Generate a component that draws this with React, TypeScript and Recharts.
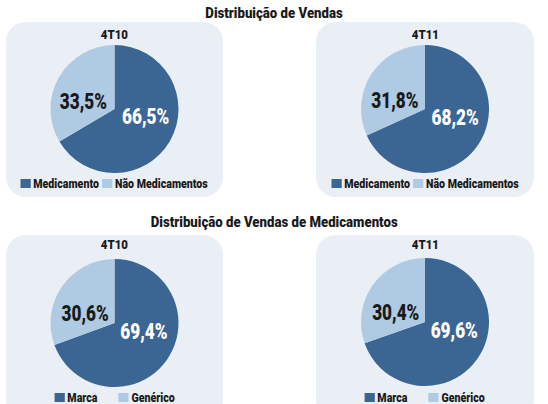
import React from 'react';
import { PieChart, Pie, Cell, Legend } from 'recharts';

const titles = ['Distribuição de Vendas', 'Distribuição de Vendas de Medicamentos'];
const periods = ['4T10', '4T11'];
const vendasCategories = ['Medicamento', 'Não Medicamentos'];
const vendas4T10 = [66.5, 33.5];
const vendas4T11 = [68.2, 31.8];
const medCategories = ['Marca', 'Genérico'];
const med4T10 = [69.4, 30.6];
const med4T11 = [69.6, 30.4];

const DARK = '#3b6593';
const LIGHT = '#afcbe3';
const PANEL = '#eaeff6';
const TEXT = '#1a1a1a';
const FONT = 'Roboto, "Liberation Sans", sans-serif';
const COLORS = [DARK, LIGHT];
const RAD = Math.PI / 180;

const fmt = (v: number) => v.toFixed(1).replace('.', ',') + '%';

const Narrow = ({ s, children }: { s: number; children: React.ReactNode }) => (
  <span style={{ display: 'inline-block', transform: `scaleX(${s})`, transformOrigin: 'center', whiteSpace: 'nowrap' }}>{children}</span>
);

const renderLabel = (p: any) => {
  const { cx, cy, midAngle, outerRadius, value, index } = p;
  const x = cx + outerRadius * 0.56 * Math.cos(midAngle * RAD);
  const y = cy - outerRadius * 0.24 * Math.sin(midAngle * RAD);
  return (
    <text
      x={0}
      y={0}
      transform={`translate(${x} ${y}) scale(0.78 1)`}
      textAnchor="middle"
      dominantBaseline="central"
      fill={index === 0 ? '#ffffff' : TEXT}
      style={{ fontFamily: FONT, fontWeight: 900, fontSize: 22 }}
    >
      {fmt(value)}
    </text>
  );
};

const makeLegend = (cats: string[], gap: number) => () => (
  <div style={{ display: 'flex', justifyContent: 'center' }}>
    <div style={{ display: 'flex', alignItems: 'center', gap, transform: 'scaleX(0.85)', transformOrigin: 'center', fontFamily: FONT, fontWeight: 900, fontSize: 12.5, color: TEXT, whiteSpace: 'nowrap' }}>
      {cats.map((c, i) => (
        <div key={c} style={{ display: 'flex', alignItems: 'center', flexShrink: 0 }}>
          <span style={{ display: 'inline-block', flexShrink: 0, width: 12, height: 9, background: COLORS[i], marginRight: 3 }} />
          <span>{c}</span>
        </div>
      ))}
    </div>
  </div>
);

type PanelProps = {
  left: number;
  top: number;
  width: number;
  height: number;
  period: string;
  cats: string[];
  values: number[];
  cy: number;
  titleTop: number;
  legendTop: number;
  legendGap: number;
};

const Panel = ({ left, top, width, height, period, cats, values, cy, titleTop, legendTop, legendGap }: PanelProps) => {
  const data = cats.map((c, i) => ({ name: c, value: values[i] }));
  return (
    <div style={{ position: 'absolute', left, top, width, height, background: PANEL, borderRadius: 20, overflow: 'hidden' }}>
      <PieChart width={width} height={height} margin={{ top: 0, right: 0, bottom: 0, left: 0 }} style={{ position: 'absolute', left: 0, top: 0 }}>
        <Pie
          data={data}
          dataKey="value"
          nameKey="name"
          cx={width / 2}
          cy={cy}
          outerRadius={64}
          startAngle={90}
          endAngle={-270}
          stroke="none"
          label={renderLabel}
          labelLine={false}
          isAnimationActive={false}
        >
          {data.map((d, i) => (
            <Cell key={d.name} fill={COLORS[i]} />
          ))}
        </Pie>
        <Legend
          content={makeLegend(cats, legendGap)}
          wrapperStyle={{ position: 'absolute', top: legendTop, left: 0, width }}
        />
      </PieChart>
      <div style={{ position: 'absolute', left: 0, top: titleTop, width: '100%', textAlign: 'center', fontFamily: FONT, fontWeight: 900, fontSize: 13, color: TEXT }}>
        <Narrow s={0.88}>{period}</Narrow>
      </div>
    </div>
  );
};

export default function App() {
  return (
    <div style={{ position: 'absolute', left: 0, top: 0, width: 548, height: 404, background: '#ffffff', overflow: 'hidden' }}>
      <div style={{ position: 'absolute', left: 0, top: 4, width: 548, textAlign: 'center', fontFamily: FONT, fontWeight: 900, fontSize: 15, color: TEXT }}>
        <Narrow s={0.88}>{titles[0]}</Narrow>
      </div>
      <div style={{ position: 'absolute', left: 0, top: 213, width: 548, textAlign: 'center', fontFamily: FONT, fontWeight: 900, fontSize: 15, color: TEXT }}>
        <Narrow s={0.88}>{titles[1]}</Narrow>
      </div>
      <Panel left={6} top={22} width={217} height={175} period={periods[0]} cats={vendasCategories} values={vendas4T10} cy={87} titleTop={5} legendTop={154} legendGap={4} />
      <Panel left={316} top={22} width={218} height={175} period={periods[1]} cats={vendasCategories} values={vendas4T11} cy={87} titleTop={5} legendTop={154} legendGap={4} />
      <Panel left={6} top={235} width={217} height={185} period={periods[0]} cats={medCategories} values={med4T10} cy={88} titleTop={2} legendTop={155} legendGap={25} />
      <Panel left={316} top={235} width={218} height={185} period={periods[1]} cats={medCategories} values={med4T11} cy={87} titleTop={2} legendTop={155} legendGap={25} />
    </div>
  );
}
